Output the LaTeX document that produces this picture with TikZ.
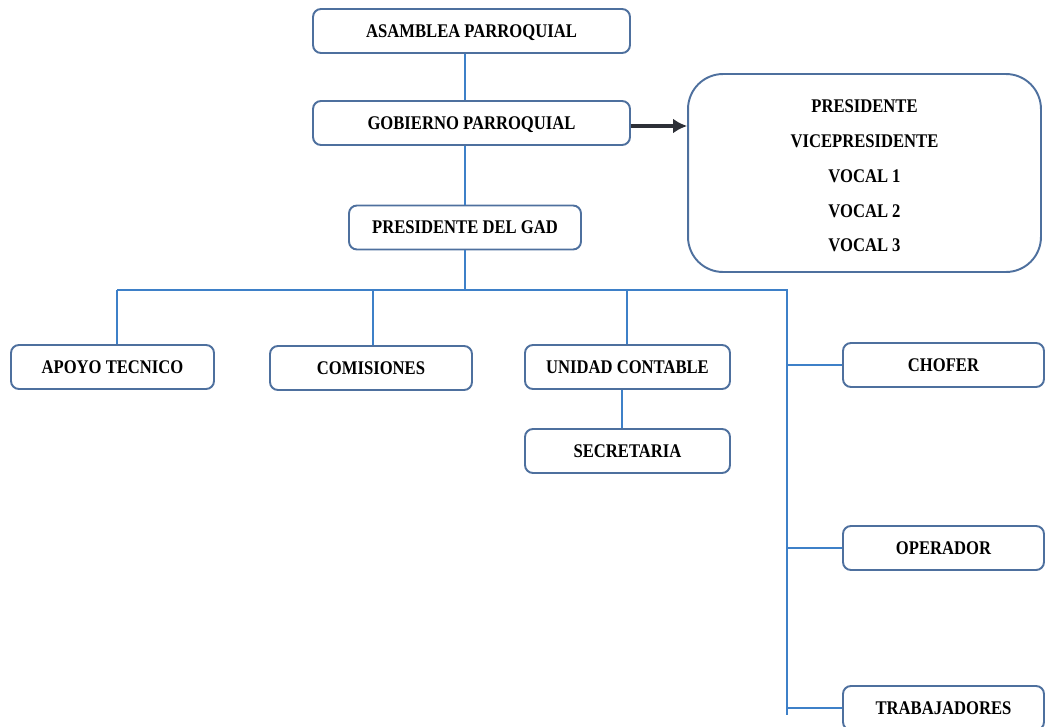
\documentclass[tikz,border=0pt]{standalone}
\usepackage{fontspec}
\setmainfont{Liberation Serif}[FakeStretch=0.86]
\usepackage{tikz}
\usetikzlibrary{arrows.meta}
\definecolor{boxblue}{RGB}{78,112,158}
\definecolor{lineblue}{RGB}{62,128,200}
\definecolor{arrowgray}{RGB}{45,48,55}
\tikzset{
    box/.style={draw=boxblue, line width=1.1pt, rounded corners=4.5pt, minimum height=0.88cm,
        font=\bfseries\fontsize{11}{13}\selectfont, inner sep=2pt, text height=7.2pt, text depth=0pt},
    bigbox/.style={draw=boxblue, line width=1.1pt, rounded corners=0.7cm, minimum width=7.06cm,
        minimum height=3.96cm, align=center, font=\bfseries\fontsize{11}{19.8}\selectfont},
    conn/.style={draw=lineblue, line width=0.9pt},
    toarrow/.style={draw=arrowgray, line width=1.8pt, -{Latex[length=8pt,width=8.5pt]}}
}
\begin{document}
\begin{tikzpicture}[x=0.02cm, y=-0.02cm]
      \useasboundingbox (0,0) rectangle (1046,727);

      % top chain
      \node[box, minimum width=6.34cm] (asamblea) at (471.5,31) {ASAMBLEA PARROQUIAL};
      \node[box, minimum width=6.34cm] (gobierno) at (471.5,123) {GOBIERNO PARROQUIAL};
      \node[box, minimum width=4.64cm] (presidente-gad) at (465,227.5) {PRESIDENTE DEL GAD};
      \node[bigbox] (miembros) at (864.5,173) {};
      \node[align=center, font=\bfseries\fontsize{11}{19.8}\selectfont] (miembros-text) at (864.5,176)
          {PRESIDENTE\\VICEPRESIDENTE\\VOCAL 1\\VOCAL 2\\VOCAL 3};

      % second level
      \node[box, minimum width=4.06cm] (apoyo) at (112.5,367) {APOYO TECNICO};
      \node[box, minimum width=4.04cm] (comisiones) at (371,368) {COMISIONES};
      \node[box, minimum width=4.1cm] (unidad) at (627.5,367) {UNIDAD CONTABLE};
      \node[box, minimum width=4.1cm] (secretaria) at (627.5,451) {SECRETARIA};
      \node[box, minimum width=4.02cm] (chofer) at (943.5,365) {CHOFER};
      \node[box, minimum width=4.02cm] (operador) at (943.5,548) {OPERADOR};
      \node[box, minimum width=4.02cm] (trabajadores) at (943.5,708) {TRABAJADORES};

      \coordinate (bus-left) at (117,290);
      \coordinate (bus-right) at (787,290);
      \coordinate (bus-end) at (787,715);

      \draw[conn] (asamblea.south -| 465,0) -- (gobierno.north -| 465,0);
      \draw[conn] (gobierno.south -| 465,0) -- (presidente-gad.north -| 465,0);
      \draw[conn] (presidente-gad.south -| 465,0) -- (465,290);
      \draw[toarrow] (gobierno.east |- 0,126) -- (miembros.west |- 0,126);

      \draw[conn] (bus-left) -- (bus-right) -- (bus-end);
      \draw[conn] (bus-left) -- (bus-left |- apoyo.north);
      \draw[conn] (373,290) -- (comisiones.north -| 373,0);
      \draw[conn] (627,290) -- (unidad.north -| 627,0);
      \draw[conn] (unidad.south -| 622,0) -- (secretaria.north -| 622,0);
      \draw[conn] (bus-right |- chofer.west) -- (chofer.west);
      \draw[conn] (bus-right |- operador.west) -- (operador.west);
      \draw[conn] (bus-right |- trabajadores.west) -- (trabajadores.west);
\end{tikzpicture}
\end{document}
